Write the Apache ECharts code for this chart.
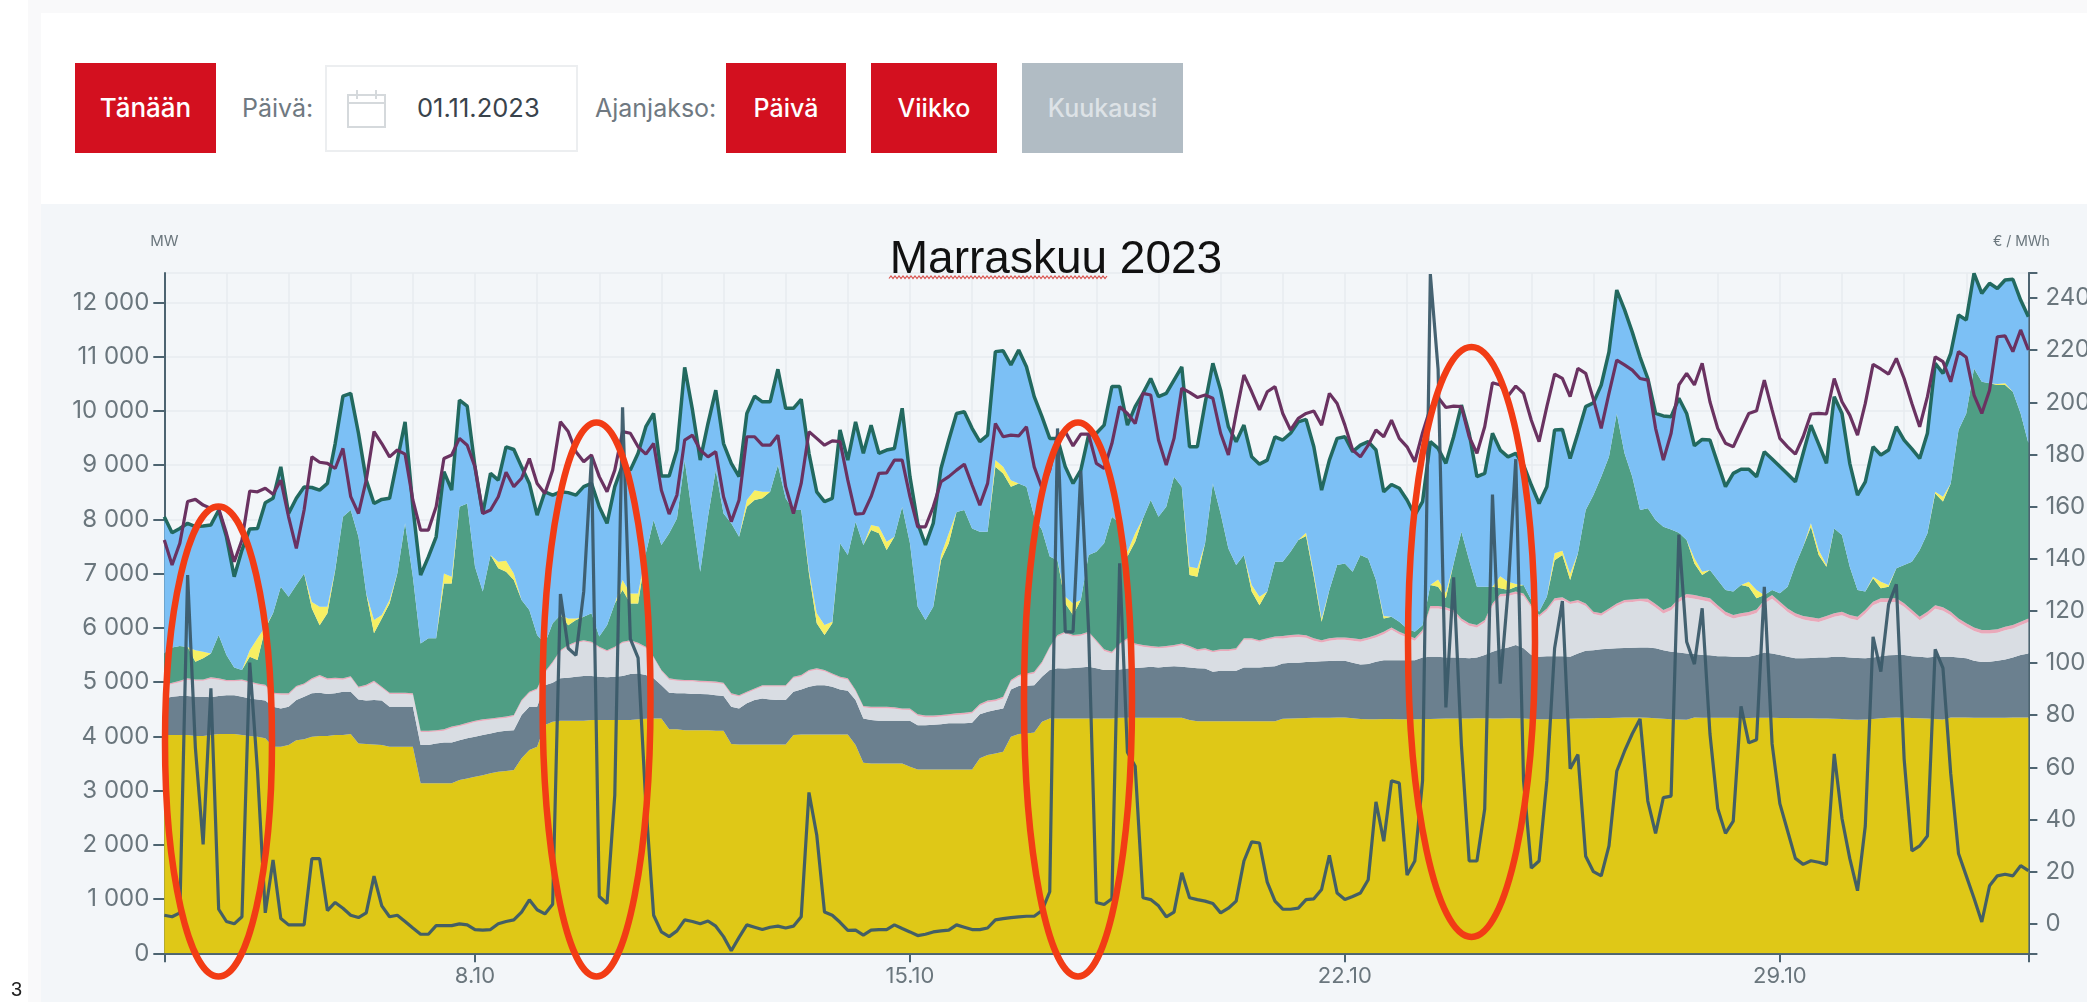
<!DOCTYPE html>
<html lang="fi">
<head>
<meta charset="utf-8">
<title>Marraskuu 2023</title>
<script src="https://cdn.jsdelivr.net/npm/echarts@6/dist/echarts.min.js"></script>
<style>
  html, body { margin: 0; padding: 0; background: #fff; overflow: hidden; }
  body { width: 2087px; height: 1002px; position: relative; font-family: Inter, sans-serif; }
  .abs { position: absolute; }
  #topStrip { left: 28px; top: 0; width: 2059px; height: 13px; background: #f9f9fa; }
  #leftStrip { left: 28px; top: 0; width: 13px; height: 1002px; background: #f9f9fa; }
  #panel { left: 41px; top: 204px; width: 2046px; height: 798px; background: #f3f6f9; }
  #chart { left: 0; top: 0; width: 2087px; height: 1002px; }
  .btn { top: 63px; height: 90px; line-height: 90px; text-align: center; color: #fff; font-size: 25px; font-weight: 500; background: #d3101f; }
  .lbl { top: 63px; height: 90px; line-height: 90px; color: #6f7981; font-size: 25px; }
  #dateBox { left: 325px; top: 65px; width: 249px; height: 83px; border: 2px solid #eceef0; background: #fff; }
  #dateText { left: 417px; top: 63px; height: 90px; line-height: 90px; color: #39434c; font-size: 25.5px; }
  #pageNo { left: 11px; top: 978px; font: 20px "Liberation Sans", sans-serif; color: #222; }
</style>
</head>
<body>
<div class="abs" id="topStrip"></div>
<div class="abs" id="leftStrip"></div>
<div class="abs" id="panel"></div>
<div class="abs btn" style="left:75px;width:141px;font-size:26px">Tänään</div>
<div class="abs lbl" style="left:242px">Päivä:</div>
<div class="abs" id="dateBox"></div>
<svg class="abs" style="left:346px;top:88px" width="42" height="42" fill="none" stroke="#d5d9dc" stroke-width="2">
  <rect x="2" y="7" width="37" height="32"/><line x1="2" y1="15" x2="39" y2="15"/>
  <line x1="11" y1="2" x2="11" y2="11"/><line x1="30" y1="2" x2="30" y2="11"/>
</svg>
<div class="abs" id="dateText">01.11.2023</div>
<div class="abs lbl" style="left:595px">Ajanjakso:</div>
<div class="abs btn" style="left:726px;width:120px">Päivä</div>
<div class="abs btn" style="left:871px;width:126px">Viikko</div>
<div class="abs btn" style="left:1022px;width:161px;background:#b1bcc4;color:#dde2e6">Kuukausi</div>
<div class="abs" id="chart"></div>
<div class="abs" id="pageNo">3</div>

<script>
const chartTitle = "Marraskuu 2023";
const days = ["3.10","4.10","5.10","6.10","7.10","8.10","9.10","10.10","11.10","12.10",
  "13.10","14.10","15.10","16.10","17.10","18.10","19.10","20.10","21.10","22.10",
  "23.10","24.10","25.10","26.10","27.10","28.10","29.10","30.10","31.10","1.11"];
const lastDay = "2.11";
const weekLabels = ["8.10", "15.10", "22.10", "29.10"];
const mwTicks = [0, 1000, 2000, 3000, 4000, 5000, 6000, 7000, 8000, 9000, 10000, 11000, 12000];
const priceLabels = [0, 20, 40, 60, 80, 100, 120, 140, 160, 180, 200, 220, 240];
const mwMax = 12545;
const priceMin = -11.3;
const priceMax = 249.6;

// three hour values, one row per day. MW levels are read as the upper edge of each band
const nuclearTop = [
  4025,4025,4025,4025,4005,4005,4025,4045, 4045,4045,4025,4005,3995,3965,3810,3810,
  3840,3930,3945,3995,4005,4005,4025,4025, 4045,3870,3860,3850,3840,3810,3810,3810,
  3810,3135,3135,3135,3135,3135,3195,3225, 3255,3285,3320,3350,3360,3380,3595,3750,
  3810,4210,4270,4290,4290,4290,4290,4300, 4300,4300,4300,4300,4300,4315,4325,4330,
  4330,4130,4130,4115,4115,4115,4115,4105, 4105,3860,3850,3850,3850,3850,3850,3850,
  3850,4025,4035,4035,4035,4035,4035,4035, 4035,3840,3515,3500,3500,3500,3500,3500,
  3440,3390,3390,3390,3390,3390,3390,3390, 3390,3595,3655,3685,3715,3995,4045,4055,
  4070,4270,4330,4330,4330,4330,4330,4330, 4330,4330,4330,4345,4345,4345,4345,4345,
  4345,4345,4345,4345,4300,4280,4280,4280, 4280,4280,4280,4280,4280,4280,4280,4280,
  4325,4330,4335,4340,4345,4345,4345,4350, 4350,4335,4320,4315,4315,4320,4320,4315,
  4315,4315,4320,4320,4325,4330,4330,4330, 4330,4335,4335,4330,4330,4335,4335,4330,
  4320,4315,4315,4320,4320,4325,4330,4330, 4335,4340,4340,4345,4350,4350,4350,4345,
  4335,4325,4315,4310,4305,4350,4345,4345, 4345,4345,4345,4340,4340,4345,4345,4345,
  4340,4340,4335,4335,4335,4330,4330,4325, 4320,4310,4305,4310,4320,4335,4345,4350,
  4345,4340,4335,4330,4320,4310,4350,4350, 4350,4345,4345,4345,4345,4345,4350,4350,
  4350];
const slateTop = [
  4700,4730,4745,4745,4730,4730,4720,4745, 4760,4760,4730,4700,4680,4660,4545,4515,
  4545,4670,4730,4795,4805,4780,4795,4825, 4825,4680,4660,4670,4660,4545,4545,4545,
  4545,3840,3840,3870,3885,3885,3930,3965, 3995,4025,4055,4085,4105,4115,4395,4545,
  4545,4945,4990,5070,5080,5100,5115,5115, 5100,5090,5100,5115,5150,5160,5130,5070,
  4945,4805,4795,4795,4780,4780,4775,4760, 4745,4545,4515,4610,4670,4700,4680,4670,
  4670,4825,4865,4915,4945,4945,4915,4865, 4840,4670,4330,4300,4290,4290,4290,4290,
  4290,4205,4205,4215,4225,4240,4240,4240, 4250,4410,4455,4485,4515,4865,4930,4935,
  4945,5100,5225,5255,5250,5260,5270,5285, 5255,5225,5225,5235,5250,5260,5270,5285,
  5270,5285,5295,5285,5270,5255,5250,5190, 5210,5210,5210,5270,5270,5270,5285,5295,
  5345,5360,5360,5370,5375,5385,5390,5395, 5395,5360,5325,5335,5375,5405,5405,5405,
  5405,5405,5455,5470,5470,5455,5455,5450, 5440,5455,5500,5560,5605,5640,5685,5625,
  5500,5470,5480,5480,5480,5470,5530,5580, 5590,5605,5615,5625,5630,5635,5640,5640,
  5625,5590,5560,5545,5530,5520,5500,5495, 5480,5480,5470,5470,5470,5500,5545,5530,
  5500,5470,5440,5440,5445,5455,5455,5470, 5470,5455,5445,5440,5455,5480,5495,5500,
  5500,5480,5470,5455,5470,5470,5470,5455, 5440,5395,5370,5375,5395,5420,5455,5500,
  5530];
const pinkTop = [
  4950,4990,5025,5070,5050,5050,5090,5070, 5040,5040,5050,5010,4975,4950,4805,4795,
  4795,4930,4975,5070,5130,5070,5080,5070, 5110,4915,4950,5025,4915,4805,4805,4805,
  4795,4105,4105,4115,4130,4180,4210,4250, 4290,4315,4330,4350,4365,4395,4670,4825,
  4885,5190,5375,5590,5685,5745,5775,5745, 5655,5590,5655,5745,5775,5725,5655,5470,
  5225,5070,5050,5040,5040,5025,5020,5010, 4990,4795,4760,4825,4885,4945,4945,4945,
  4945,5100,5130,5225,5255,5225,5160,5100, 5070,4855,4560,4545,4545,4545,4535,4515,
  4515,4410,4385,4385,4395,4410,4425,4435, 4455,4595,4660,4680,4730,5040,5130,5160,
  5190,5375,5655,5870,5930,5870,5885,5930, 5775,5605,5560,5715,5810,5715,5685,5665,
  5655,5665,5685,5715,5665,5605,5625,5580, 5605,5605,5625,5810,5810,5775,5810,5840,
  5850,5870,5880,5865,5810,5775,5810,5825, 5825,5810,5790,5825,5870,5930,6010,5930,
  5870,5810,5960,6405,6405,6380,6330,6175, 6085,6055,6145,6450,6625,6635,6670,6635,
  6420,6240,6360,6545,6565,6485,6515,6450, 6300,6270,6360,6450,6515,6525,6540,6540,
  6440,6330,6390,6545,6625,6605,6575,6545, 6420,6300,6240,6270,6295,6340,6515,6605,
  6485,6360,6270,6220,6195,6175,6220,6270, 6300,6240,6205,6330,6485,6545,6545,6545,
  6455,6330,6205,6300,6420,6380,6300,6175, 6085,6010,5960,5960,5975,6020,6055,6115,
  6175];
const pinkBand = [
  25,25,25,25,25,25,25,25, 25,25,25,25,25,25,25,25, 25,25,25,25,25,25,25,25, 25,25,25,25,25,25,25,25,
  25,25,25,25,25,25,25,25, 25,25,25,25,25,25,25,25, 25,25,25,25,25,25,25,25, 25,25,25,25,25,25,25,25,
  25,25,25,25,25,25,25,25, 25,25,25,25,25,25,25,25, 25,25,25,25,25,25,25,25, 25,25,25,25,25,25,25,25,
  30,30,30,30,30,30,30,30, 30,30,30,30,30,30,30,30, 30,30,30,30,30,30,30,30, 30,30,30,30,30,30,30,30,
  30,30,30,30,30,30,30,30, 30,30,30,30,30,30,30,30, 45,45,45,45,45,45,45,45, 45,45,45,45,45,45,45,45,
  45,45,45,45,45,45,45,45, 45,45,45,45,45,45,45,45, 45,45,45,45,45,45,45,45, 45,45,45,45,45,45,45,65,
  65,65,65,65,65,65,65,65, 65,65,65,65,65,65,65,65, 65,65,65,65,65,65,65,65, 65,65,65,65,65,65,65,65,
  65,65,65,65,65,65,65,65, 65,65,65,65,65,65,65,65,
  65];
const greenTop = [
  5530,5640,5665,5650,5375,5440,5530,5870, 5500,5270,5225,5470,5410,5990,6270,6760,
  6575,6790,7005,6360,6050,6270,7065,8050, 8175,7680,6635,5900,6175,6450,7005,7930,
  6945,5715,5810,5810,6820,6820,8235,8295, 7130,6670,7345,7100,7035,6885,6515,6330,
  5870,5715,6085,6240,6050,6145,6205,6270, 5840,6050,6450,6700,6450,6450,7375,7990,
  7530,7745,8020,9095,8050,7035,8050,8910, 8110,7930,7680,8235,8360,8390,8510,9005,
  8390,8175,8175,7005,6085,5870,6085,7560, 7345,7960,7530,7805,7745,7435,7680,8235,
  7560,6390,6145,6390,7250,7560,8140,8175, 7835,7775,7775,8970,8850,8605,8665,8605,
  8050,7805,7315,7250,6450,6240,6515,7345, 7405,7560,8050,7930,7315,7590,8020,8360,
  8050,8235,8790,8605,6975,6945,7560,8665, 8110,7465,7160,7345,6670,6420,6670,7220,
  7220,7405,7620,7695,6945,6115,6700,7160, 7190,7035,7345,7280,6885,6175,6205,6115,
  5990,5930,6050,6790,6760,6545,7190,7775, 7250,6760,6760,6760,6730,6700,6760,6790,
  6515,6300,6575,7250,7345,6885,7375,8175, 8450,8790,9155,9955,9220,8790,8175,8205,
  7990,7865,7815,7755,7620,7190,6975,7070, 6885,6700,6670,6790,6760,6545,6605,6700,
  6640,6760,7160,7500,7865,7345,7130,7835, 7715,7130,6700,6670,6915,6730,6760,7100,
  7160,7220,7435,7745,8480,8330,8665,9650, 9955,10785,10540,10510,10480,10480,10355,9955,
  9405];
const lemonBand = [
  0,0,0,0,215,120,0,0, 0,0,0,120,400,30,0,0, 0,0,0,120,340,120,10,0, 0,0,0,245,65,65,0,0,
  0,0,0,0,185,125,0,0, 0,0,0,120,205,120,0,0, 0,0,0,0,125,30,0,0, 0,0,0,185,185,185,0,0,
  0,0,0,0,0,0,0,0, 0,0,0,125,180,120,0,0, 0,0,0,60,185,185,30,0, 0,0,0,95,120,155,0,0,
  0,0,0,0,95,185,0,0, 0,0,0,125,120,120,0,0, 0,0,0,0,125,210,0,0, 0,0,0,0,90,155,0,0,
  0,0,0,0,155,155,0,0, 0,0,0,0,120,155,0,0, 0,0,0,60,60,60,0,0, 0,0,0,0,0,45,0,0,
  0,0,0,0,135,105,0,0, 0,0,0,0,225,150,50,0, 0,0,0,125,80,120,0,0, 0,0,0,0,0,0,0,0,
  0,0,0,0,0,95,60,0, 0,0,0,0,90,155,0,0, 0,0,0,0,65,90,30,0, 0,0,0,0,30,120,30,0,
  0,0,0,0,30,90,0,0, 0,0,0,0,20,30,0,0,
  0];
const blueTop = [
  8050,7755,7835,7930,7870,7880,7900,8170, 7680,6945,7435,7825,7835,8310,8390,8970,
  8110,8390,8600,8590,8540,8665,9400,10275, 10325,9590,8725,8295,8370,8390,9095,9800,
  8235,6975,7310,7680,8880,8540,10200,10090, 8970,8110,8850,8725,9340,9290,8970,8665,
  8080,8510,8450,8510,8495,8450,8605,8665, 8235,7930,8605,9005,8910,9220,9710,9955,
  8800,8800,9280,10805,10020,9095,9770,10385, 9400,9035,8790,9955,10275,10170,10170,10770,
  10050,10050,10215,9220,8510,8330,8390,9650, 9095,9800,9220,9740,9220,9280,9310,10050,
  8790,7930,7530,7930,8940,9465,9955,9985, 9680,9435,9555,11095,11110,10850,11125,10815,
  10265,9895,9495,9495,8970,8665,8910,9555, 9590,9740,10450,10450,9740,10080,10325,10600,
  10265,10325,10570,10815,9340,9340,10140,10880, 10385,9710,9435,9740,9155,9020,9095,9525,
  9465,9590,9800,9845,9340,8540,9095,9495, 9525,9250,9370,9435,9280,8510,8645,8575,
  8360,8080,8330,9435,9310,9035,9525,10110, 9590,8790,8850,9590,9280,9155,9220,9005,
  8635,8295,8605,9650,9660,9125,9590,10080, 10150,10480,11090,12230,11870,11455,10995,10600,
  9955,9910,9895,10235,9955,9360,9475,9465, 9035,8605,8850,8925,8925,8790,9250,9115,
  8975,8840,8695,9220,9740,9390,9035,10265, 9955,9035,8450,8695,9340,9190,9280,9710,
  9465,9300,9125,9590,10880,10695,11065,11770, 11680,12540,12170,12355,12260,12415,12430,12045,
  11740];
const consumption = [
  7620,7160,7560,8330,8370,8265,8205,8205, 7745,7220,7620,8525,8510,8575,8465,8725,
  8050,7465,8175,9155,9055,9035,8940,9310, 8420,8110,8725,9620,9400,9155,9280,9205,
  8360,7805,7805,8235,9125,9190,9495,9370, 8970,8110,8175,8420,8870,8605,8760,9125,
  8665,8480,8910,9800,9620,9250,9065,9190, 8790,8510,8910,9620,9590,9340,9205,9400,
  8540,8100,8450,9465,9555,9280,9155,9250, 8420,7960,8360,9525,9525,9370,9370,9555,
  8605,8110,8665,9620,9495,9370,9450,9435, 8725,8100,8110,8420,8850,8860,9095,9095,
  8420,7865,7865,8235,8695,8790,8910,9020, 8635,8265,8665,9770,9525,9555,9540,9710,
  8970,8575,8910,9555,9620,9355,9575,9575, 9035,8940,9400,10080,9955,9770,10325,10295,
  9465,9005,9495,10420,10345,10250,10295,10235, 9590,9190,9955,10665,10355,10020,10355,10450,
  9955,9650,9865,9955,10000,9740,10325,10140, 9740,9280,9155,9370,9650,9525,9830,9495,
  9340,9065,9600,10050,10250,10065,10090,10080, 9525,9220,9710,10520,10480,10275,10460,10325,
  9830,9435,10080,10680,10600,10265,10785,10695, 10215,9680,10325,10940,10850,10755,10600,10570,
  9680,9095,9590,10480,10695,10480,10880,10170, 9680,9405,9340,9650,9955,10005,10570,10020,
  9495,9340,9205,9525,9945,9955,9945,10600, 10170,9925,9555,10140,10860,10775,10680,10970,
  10600,10140,9710,10265,11000,10910,10540,11095, 10990,10295,9955,10385,11370,11385,11095,11495,
  11125];
const price = [
  3.3,2.7,4.2,133.8,67.6,30.5,90.3,5.6, 0.9,0,2.7,100.2,58.6,4.2,24.5,2,
  -0.4,-0.4,-0.4,25,25,5.1,8.2,6, 3.3,2.4,4.2,18.3,6.9,2.7,3.3,0.9,
  -1.6,-4,-4,-0.7,-0.7,-0.7,0,-0.4, -2.2,-2.4,-2.2,0,0.9,1.5,4.5,9.2,
  5.4,3.8,7.5,126.5,105.7,103,127.4,179, 10.5,7.8,49.5,198.1,109.3,102,45.9,3.3,
  -3.1,-4.9,-2.7,1.5,0.9,0,1.1,-0.9, -4.9,-10.3,-5.2,-0.4,-1.3,-2.2,-1.3,-0.9,
  -1.6,-0.9,2.7,50.4,34.1,4.5,3.3,0.6, -2.5,-2.4,-4.3,-2.4,-2.2,-2.2,-0.4,-1.8,
  -3.1,-4.5,-4,-3.1,-2.7,-2.4,-0.4,-1.3, -2.2,-2.2,-1.6,1.5,2,2.4,2.7,2.9,
  2.9,5.1,12.3,190,112,112,173.6,112.9, 8.2,7.4,9.6,138.3,65.8,60.4,10,9.3,
  6.9,2.7,4.5,19.6,10,9.3,8.7,7.8, 4.2,6,8.7,24.1,31.4,31,16,8.7,
  5.6,5.6,6,9.3,9.6,13.2,26.3,11.8, 9.3,10.5,11.8,16.9,46.8,31.7,54.9,54,
  18.7,24.1,54.9,249.2,212.6,83,132.9,68.5, 24.1,24.1,44,164.6,92.1,127.4,178.2,54.9,
  21.4,24.1,54.9,105.7,123.8,59.5,64.9,25.9, 20,18.4,29.9,58.5,66.2,72.9,78.6,47.1,
  34.7,48.4,49,149.3,108.2,99.6,121,72.9, 44.2,34.7,39.4,83.4,69.4,70.6,129.2,69,
  46.1,35.6,25.1,22.8,24.2,23.6,22.8,65.2, 40.4,25.1,12.7,37.5,110.1,96.7,122.5,130.2,
  63.3,28,29.9,33.7,105.3,98.1,57.6,27, 18.4,9.8,0.7,14.6,18.4,19,18.4,22.3,
  20.4];

const categories = days.flatMap((d) => Array(8).fill(d)).concat(lastDay);
const weekIdx = weekLabels.map((d) => days.indexOf(d) * 8);
const last = categories.length - 1;

// the picture gives band edges, the stack wants thicknesses
const minus = (a, b) => a.map((v, i) => Math.max(v - b[i], 0));
const lightTop = pinkTop.map((v, i) => v - pinkBand[i]);
const lemonTop = greenTop.map((v, i) => v + lemonBand[i]);

const axisColor = "#4d6471";
const labelColor = "#6a767d";
const gridColor = "#e7ebef";
const font = "Inter, sans-serif";

const band = (name, data, color, extra) => ({
  name,
  type: "line",
  stack: "mw",
  data,
  symbol: "none",
  silent: true,
  lineStyle: { width: 0 },
  areaStyle: { color, opacity: 1 },
  ...extra,
});

const ring = (cx, cy, rx, ry) => ({
  type: "ellipse",
  silent: true,
  z: 100,
  shape: { cx, cy, rx, ry },
  style: { fill: "none", stroke: "#f23c15", lineWidth: 6.5 },
});

// spell checker squiggle below the first word of the title
const squiggle = [];
for (let x = 889, k = 0; x <= 1108; x += 2, k++) squiggle.push([x, k % 2 ? 276 : 278.5]);

const chart = echarts.init(document.getElementById("chart"), null, { renderer: "canvas" });
chart.setOption({
  animation: false,
  backgroundColor: "transparent",
  title: {
    text: chartTitle,
    left: 1051,
    top: 232,
    textAlign: "center",
    textStyle: { fontFamily: "Liberation Sans, Arial, sans-serif", fontSize: 46, fontWeight: "normal", color: "#111" },
  },
  grid: { left: 164.3, right: 58.6, top: 273, bottom: 48.7, containLabel: false, outerBoundsMode: "none" },
  xAxis: {
    type: "category",
    data: categories,
    boundaryGap: false,
    axisLine: { lineStyle: { color: axisColor, width: 2 } },
    axisTick: {
      length: 9,
      lineStyle: { color: axisColor, width: 2 },
      interval: (i) => i === 0 || i === last || weekIdx.includes(i),
    },
    axisLabel: {
      color: labelColor,
      fontFamily: font,
      fontSize: 22,
      margin: 12,
      hideOverlap: false,
      interval: (i) => weekIdx.includes(i),
    },
    splitLine: {
      show: true,
      interval: (i) => i % 8 === 0,
      lineStyle: { color: gridColor, width: 1.5 },
    },
  },
  yAxis: [
    {
      type: "value",
      min: 0,
      max: mwMax,
      interval: 1000,
      name: "MW",
      nameLocation: "end",
      nameGap: 24,
      nameTextStyle: { color: labelColor, fontFamily: font, fontSize: 15 },
      axisLine: { show: true, lineStyle: { color: axisColor, width: 2 } },
      axisTick: { show: true, length: 11, lineStyle: { color: axisColor, width: 2 } },
      axisLabel: {
        color: labelColor,
        fontFamily: font,
        fontSize: 24,
        margin: 15,
        showMaxLabel: false,
        formatter: (v) => (mwTicks.includes(v) ? String(v).replace(/\B(?=(\d{3})+$)/g, " ") : ""),
      },
      splitLine: { show: true, lineStyle: { color: gridColor, width: 1.5 } },
    },
    {
      type: "value",
      position: "right",
      min: priceMin,
      max: priceMax,
      name: "€ / MWh",
      nameLocation: "end",
      nameGap: 24,
      nameTextStyle: { color: labelColor, fontFamily: font, fontSize: 14, padding: [0, 14, 0, 0] },
      axisLine: { show: true, lineStyle: { color: axisColor, width: 2 } },
      axisTick: {
        show: true,
        length: 9,
        lineStyle: { color: axisColor, width: 2 },
        customValues: [priceMin].concat(priceLabels, priceMax),
      },
      axisLabel: {
        color: labelColor,
        fontFamily: font,
        fontSize: 24,
        margin: 17,
        customValues: priceLabels,
      },
      splitLine: { show: false },
    },
  ],
  graphic: [
    ring(218.5, 741.5, 53.5, 235),
    ring(596.5, 699.5, 54, 277),
    ring(1078, 699.5, 54, 277),
    ring(1471.5, 642, 63.5, 295),
    {
      type: "polyline",
      silent: true,
      z: 90,
      shape: { points: squiggle },
      style: { fill: "none", stroke: "#d9534f", lineWidth: 1.2 },
    },
  ],
  series: [
    band("Ydinvoima", nuclearTop, "#dfc817"),
    band("Kaukolämpö", minus(slateTop, nuclearTop), "#6b808f"),
    band("Teollisuus", minus(lightTop, slateTop), "#d9dde3"),
    band("Muu", pinkBand, "#e9a9ba"),
    band("Vesivoima", minus(greenTop, pinkTop), "#4f9e84"),
    band("Aurinko", lemonBand, "#f7ef63"),
    band("Tuonti", minus(blueTop, lemonTop), "#7cc0f5", {
      lineStyle: { width: 3.5, color: "#22695f" },
    }),
    {
      name: "Kulutus",
      type: "line",
      data: consumption,
      symbol: "none",
      silent: true,
      z: 5,
      lineStyle: { width: 3.2, color: "#6a3261" },
    },
    {
      name: "Hinta",
      type: "line",
      yAxisIndex: 1,
      data: price,
      symbol: "none",
      silent: true,
      z: 6,
      lineStyle: { width: 3.2, color: "#3b5a69", opacity: 0.95 },
    },
  ],
});
</script>
</body>
</html>
